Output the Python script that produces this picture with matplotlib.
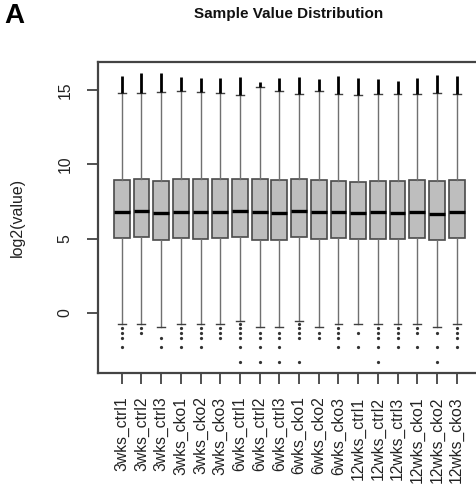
import matplotlib
matplotlib.use("Agg")
import matplotlib.pyplot as plt

plt.rcParams['font.family'] = ['Liberation Sans', 'DejaVu Sans']

labels = ["3wks_ctrl1", "3wks_ctrl2", "3wks_ctrl3", "3wks_cko1", "3wks_cko2", "3wks_cko3",
          "6wks_ctrl1", "6wks_ctrl2", "6wks_ctrl3", "6wks_cko1", "6wks_cko2", "6wks_cko3",
          "12wks_ctrl1", "12wks_ctrl2", "12wks_ctrl3", "12wks_cko1", "12wks_cko2", "12wks_cko3"]
q1 = [5.02, 5.09, 4.91, 5.02, 5.00, 5.02, 5.11, 4.89, 4.91, 5.09, 4.95, 5.04,
      4.95, 4.95, 4.98, 5.02, 4.89, 5.02]
med = [6.79, 6.88, 6.72, 6.79, 6.79, 6.81, 6.86, 6.77, 6.75, 6.86, 6.77, 6.81,
       6.72, 6.77, 6.75, 6.79, 6.68, 6.79]
q3 = [8.94, 8.99, 8.88, 9.01, 8.99, 8.99, 8.99, 9.01, 8.94, 8.99, 8.92, 8.90,
      8.83, 8.90, 8.88, 8.92, 8.90, 8.94]
whisker_hi = [14.79, 14.79, 14.86, 14.93, 14.86, 14.81, 14.68, 15.20, 14.95, 14.75, 14.90, 14.70,
              14.64, 14.72, 14.70, 14.75, 14.81, 14.75]
upper_max = [15.94, 16.16, 16.14, 15.87, 15.80, 15.80, 15.87, 15.53, 15.80, 15.87, 15.76, 15.94,
             15.80, 15.71, 15.58, 15.80, 15.98, 15.94]
whisker_lo = [-0.74, -0.74, -0.96, -0.74, -0.74, -0.74, -0.52, -0.96, -0.96, -0.52, -0.96, -0.74,
              -0.74, -0.74, -0.74, -0.74, -0.96, -0.74]
low_out = [
    [-1.03, -1.32, -1.70, -2.31],
    [-1.03, -1.32],
    [-1.70, -2.31],
    [-1.03, -1.32, -1.70, -2.31],
    [-1.03, -1.32, -1.70, -2.31],
    [-1.03, -1.32, -1.70],
    [-0.74, -1.03, -1.32, -1.70, -2.31, -3.29],
    [-1.32, -1.70, -2.31, -3.29],
    [-1.32, -1.70, -2.31, -3.29],
    [-0.74, -1.03, -1.32, -1.70, -3.29],
    [-1.32, -1.70],
    [-1.03, -1.32, -1.70, -2.31],
    [-1.32, -2.31],
    [-1.03, -1.32, -1.70, -2.31, -3.29],
    [-1.03, -1.32, -1.70, -2.31],
    [-1.03, -1.32, -2.31],
    [-1.32, -2.31, -3.29],
    [-1.03, -1.32, -1.70, -2.31],
]
yticks = [0, 5, 10, 15]

W, H = 477, 487
fig = plt.figure(figsize=(W / 100, H / 100), dpi=100)
AX_L, AX_R = 97.7, 480.7
ax = fig.add_axes([AX_L / W, 1 - 373 / H, (AX_R - AX_L) / W, (373 - 62) / H])

n = len(labels)
pos = list(range(1, n + 1))
stats = []
for i in range(n):
    stats.append(dict(med=med[i], q1=q1[i], q3=q3[i], whislo=whisker_lo[i],
                      whishi=whisker_hi[i], fliers=low_out[i], label=labels[i]))

ax.bxp(stats, positions=pos, widths=0.8, patch_artist=True, showfliers=True,
       boxprops=dict(facecolor='#bebebe', edgecolor='#4a4a4a', linewidth=1.2),
       medianprops=dict(color='black', linewidth=2.4),
       whiskerprops=dict(color='#707070', linewidth=1.0),
       capprops=dict(color='#404040', linewidth=1.0),
       capwidths=0.4,
       flierprops=dict(marker='o', markersize=1.3, markerfacecolor='#333333',
                       markeredgecolor='#333333', linestyle='none'))
# dense upper outliers appear as a solid thick stroke
ax.vlines(pos, whisker_hi, upper_max, colors='black', linewidth=2.0)

ax.set_xlim(-0.22, n + 1.22)
ax.set_ylim(-4.04, 16.88)
ax.set_xticks(pos)
ax.set_xticklabels(labels, rotation=90, fontsize=11.3, color='#222222')
ax.set_yticks(yticks)
ax.set_yticklabels([str(v) for v in yticks], rotation=90, va='center',
                   fontsize=11.3, color='#222222')
ax.tick_params(axis='both', length=8, width=1.2, color='#333333', pad=9)
ax.tick_params(axis='y', pad=10)
for s in ax.spines.values():
    s.set_linewidth(1.6)
    s.set_color('#444444')
ax.set_ylabel('log2(value)', fontsize=11.5, color='#222222')
ax.yaxis.set_label_coords((25 - AX_L) / (AX_R - AX_L), 0.5)

fig.text(289 / W, 1 - 14 / H, 'Sample Value Distribution', ha='center', va='center',
         fontsize=11.0, fontweight='bold', color='#111111')
fig.text(4 / W, 1 - 23 / H, 'A', ha='left', va='baseline', fontsize=20,
         fontweight='bold', color='black')

fig.savefig('out.png', dpi=100)
